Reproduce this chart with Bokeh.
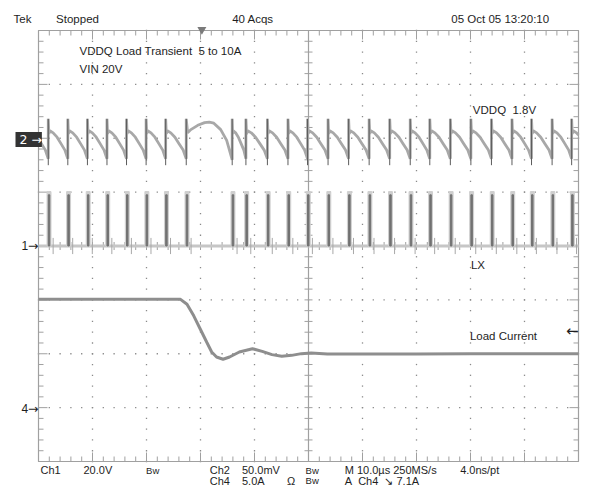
import numpy as np
from bokeh.plotting import figure
from bokeh.models import Range1d, Label
from bokeh.embed import file_html
from bokeh.resources import INLINE

# ---------------- data ----------------
# switching instants of LX (µs from left edge of screen, 10 µs/div)
switch_times_us = [1.81, 5.43, 9.06, 12.68, 16.30, 19.93, 23.55, 27.36,
                   35.87, 38.41, 42.39, 46.20, 49.82, 53.62, 57.43, 61.23,
                   65.04, 68.84, 72.46, 76.27, 80.07, 83.88, 87.68, 91.30,
                   95.11, 98.73]
lx_high_v = 19.0
lx_pulse_width_us = 0.28

# VDDQ ripple (mV around 1.8 V): one tooth read as (fraction of period, mV)
tooth_phase = [0.0, 0.03, 0.08, 0.25, 0.45, 0.65, 0.85, 1.0]
tooth_mv = [18, 4, 7, 5, 1, -5, -11, -19]
# overshoot hump after the load step (cycle starting at 27.36 µs)
hump_start_us = 27.36
hump_phase = [0.0, 0.03, 0.10, 0.25, 0.40, 0.50, 0.60, 0.75, 0.88, 1.0]
hump_mv = [18, 5, 8, 12, 14.5, 15, 14, 8, -2, -20]
spike_low_mv = -25
spike_high_mv = 18

# load current (A) vs time (µs)
load_t_us = [0, 26.3, 27.5, 28.75, 29.95, 31.16, 32.07, 32.97, 34.18, 35.38,
             37.19, 39.62, 41.43, 43.24, 45.05, 46.87, 48.68, 50.49, 53.5,
             60, 70, 80, 90, 100]
load_a = [10.05, 10.05, 9.59, 8.52, 7.30, 6.07, 5.16, 4.70, 4.49, 4.70,
          5.16, 5.47, 5.22, 4.92, 4.76, 4.85, 5.01, 5.06, 4.97,
          4.98, 4.98, 5.0, 4.99, 4.99]
trigger_time_us = 30.25
trigger_level_a = 7.1

# scope settings
US_PER_DIV = 10
CH1_V_PER_DIV, CH1_POS = 20.0, 0      # LX
CH2_MV_PER_DIV, CH2_POS = 50.0, 2     # VDDQ (mV about 1.8 V)
CH4_A_PER_DIV, CH4_POS = 5.0, -3      # load current

# ---------------- geometry ----------------
W, H = 581, 486
GX0, GX1 = 38, 578          # graticule left / right (px)
GY0, GY1 = 30, 461          # graticule top / bottom (px)
KX = (GX1 - GX0) / 100.0    # px per µs
KY = (GY1 - GY0) / 8.0      # px per division

x_start = -GX0 / KX
x_end = 100 + (W - GX1) / KX
y_top = 4 + GY0 / KY
y_bot = -4 - (H - GY1) / KY

FONT = "Liberation Sans"
SYM = "DejaVu Sans"
TXT = "#1e1e1e"
GRID = "#a0a0a0"

p = figure(width=W, height=H, x_range=Range1d(x_start, x_end), y_range=Range1d(y_bot, y_top),
           x_axis_type=None, y_axis_type=None, output_backend="svg",
           toolbar_location=None, min_border=0)
p.outline_line_color = None
p.background_fill_color = "white"
p.border_fill_color = "white"
p.grid.visible = False
p.extra_y_ranges = {
    "ch1": Range1d((y_bot - CH1_POS) * CH1_V_PER_DIV, (y_top - CH1_POS) * CH1_V_PER_DIV),
    "ch2": Range1d((y_bot - CH2_POS) * CH2_MV_PER_DIV, (y_top - CH2_POS) * CH2_MV_PER_DIV),
    "ch4": Range1d((y_bot - CH4_POS) * CH4_A_PER_DIV, (y_top - CH4_POS) * CH4_A_PER_DIV),
}

# ---------------- graticule ----------------
xdiv = np.arange(0, 101, US_PER_DIV, dtype=float)            # 0..100 µs
ydiv = np.arange(-4, 5, 1, dtype=float)                      # -4..4 div
xminor = np.round(np.arange(0, 100.001, US_PER_DIV / 5), 6)
yminor = np.round(np.arange(-4, 4.001, 0.2), 6)

# dotted division lines
dx, dy = [], []
for xv in xdiv[1:-1]:
    if xv != 50:
        dx += [xv] * len(yminor)
        dy += list(yminor)
for yv in ydiv[1:-1]:
    if yv != 0:
        dx += list(xminor)
        dy += [yv] * len(xminor)
p.scatter(dx, dy, marker="square", size=1.3, fill_color="#8a8a8a", line_color=None)

# outer frame and centre crosshair
p.quad(left=[0], right=[100], bottom=[-4], top=[4], fill_color=None,
       line_color=GRID, line_width=1.2)
p.segment(x0=[50, 0], y0=[-4, 0], x1=[50, 100], y1=[4, 0], line_color=GRID, line_width=1.2)

# ticks
is_major_x = np.isclose(xminor % US_PER_DIV, 0)
is_major_y = np.isclose(np.abs(yminor) % 1, 0)
lx_ = np.where(is_major_x, 9, 5) / KY      # tick length in div for x ticks
ly_ = np.where(is_major_y, 9, 5) / KX      # tick length in µs for y ticks
tx0, ty0, tx1, ty1 = [], [], [], []
tx0 += list(xminor); ty0 += [4] * len(xminor); tx1 += list(xminor); ty1 += list(4 - lx_)
tx0 += list(xminor); ty0 += [-4] * len(xminor); tx1 += list(xminor); ty1 += list(-4 + lx_)
tx0 += [0] * len(yminor); ty0 += list(yminor); tx1 += list(ly_); ty1 += list(yminor)
tx0 += [100] * len(yminor); ty0 += list(yminor); tx1 += list(100 - ly_); ty1 += list(yminor)
c = 4
tx0 += list(xminor); ty0 += [-c / KY] * len(xminor); tx1 += list(xminor); ty1 += [c / KY] * len(xminor)
tx0 += [50 - c / KX] * len(yminor); ty0 += list(yminor); tx1 += [50 + c / KX] * len(yminor); ty1 += list(yminor)
p.segment(x0=tx0, y0=ty0, x1=tx1, y1=ty1, line_color=GRID, line_width=1)

# ---------------- Ch1 : LX ----------------
p.line([0, 100], [0, 0], line_color="#c6c6c6", line_width=3, y_range_name="ch1")
px_centres = [t + lx_pulse_width_us / 2 for t in switch_times_us]
p.vbar(x=px_centres, width=lx_pulse_width_us + 0.45, bottom=0, top=lx_high_v + 1.2,
       color="#cfcfcf", y_range_name="ch1")
p.vbar(x=px_centres, width=lx_pulse_width_us, bottom=0, top=lx_high_v,
       color="#727272", y_range_name="ch1")
ring = [t + 0.9 for t in switch_times_us]
p.segment(x0=ring, y0=-3, x1=ring, y1=3, line_color="#a8a8a8", line_width=1, y_range_name="ch1")

# ---------------- Ch2 : VDDQ ripple ----------------
starts = [switch_times_us[0] - (switch_times_us[1] - switch_times_us[0])] + switch_times_us
ends = switch_times_us + [switch_times_us[-1] + (switch_times_us[-1] - switch_times_us[-2])]
vt, vv = [], []
for s, e in zip(starts, ends):
    ph, mv = (hump_phase, hump_mv) if abs(s - hump_start_us) < 0.01 else (tooth_phase, tooth_mv)
    for f, m in zip(ph, mv):
        vt.append(s + f * (e - s))
        vv.append(m)


def clip_to_screen(t, v, lo=0.0, hi=100.0):
    ot, ov = [], []
    for i in range(len(t)):
        if lo <= t[i] <= hi:
            if not ot and i > 0 and t[i - 1] < lo:
                a = (lo - t[i - 1]) / (t[i] - t[i - 1])
                ot.append(lo); ov.append(v[i - 1] + a * (v[i] - v[i - 1]))
            ot.append(t[i]); ov.append(v[i])
        elif t[i] > hi and ot:
            a = (hi - t[i - 1]) / (t[i] - t[i - 1])
            ot.append(hi); ov.append(v[i - 1] + a * (v[i] - v[i - 1]))
            break
    return ot, ov


vt, vv = clip_to_screen(vt, vv)
p.line(vt, vv, line_color="#a8a8a8", line_width=2.8, y_range_name="ch2")
p.segment(x0=switch_times_us, y0=spike_low_mv, x1=switch_times_us, y1=spike_high_mv,
          line_color="#5c5c5c", line_width=1, y_range_name="ch2")

# ---------------- Ch4 : load current ----------------
p.line(load_t_us, load_a, line_color="#8e8e8e", line_width=3, y_range_name="ch4")

# trigger position marker
p.scatter([trigger_time_us], [4 + 1 / KY], marker="inverted_triangle", size=9,
          color="#7a7a7a", line_color=None)


# ---------------- texts (reference pixel positions -> plot units) ----------------
def fx(xr):
    return xr if xr <= GX0 else GX0 + (xr - GX0) * (GX1 - GX0) / 552.0


def fy(yr):
    return GY0 + (yr - GY0) * (GY1 - GY0) / 437.0


def to_x(xf):
    return (xf - GX0) / KX


def to_y(yf):
    return 4 - (yf - GY0) / KY


def txt(s, xr, yr, size="11.5px", color=TXT, raw_y=False, font=FONT, align="left", **kw):
    yf = yr if raw_y else fy(yr)
    p.add_layout(Label(x=to_x(fx(xr)), y=to_y(yf), text=s, text_font=font,
                       text_font_size=size, text_color=color, text_baseline="middle",
                       text_align=align, **kw))


NB = "\u00a0"
txt("Tek", 13, 18, raw_y=True)
txt("Stopped", 56, 18, raw_y=True)
txt("40 Acqs", 236, 18, raw_y=True)
txt("05 Oct 05 13:20:10", 460, 18, raw_y=True)

txt("VDDQ Load Transient" + NB + " 5 to 10A", 80, 51)
txt("VIN 20V", 80, 69)
txt("VDDQ" + NB + " 1.8V", 482, 111)
txt("LX", 480, 268)
txt("Load Current", 479, 340)
p.add_layout(Label(x=100, y=trigger_level_a, y_range_name="ch4", text="\u2190",
                   text_font=SYM, text_font_size="15px", text_color=TXT,
                   text_baseline="middle", text_align="right"))

# channel reference markers
txt(NB + "2" + NB + "\u2192", 15, 140.5, size="12.5px", color="white", font=SYM,
    background_fill_color="#333333")
txt("1", 21, 248, size="12px")
txt("\u2192", 38, 248, size="12.5px", font=SYM, align="right")
txt("4", 21, 413, size="12px")
txt("\u2192", 38, 413, size="12.5px", font=SYM, align="right")

r1, r2 = 469.5, 480
SZ = "11px"
BW = "9.5px"
txt("Ch1", 40, r1, size=SZ, raw_y=True)
txt("20.0V", 84, r1, size=SZ, raw_y=True)
txt("Bw", 148, r1, size=BW, raw_y=True)
txt("Ch2", 213, r1, size=SZ, raw_y=True)
txt("50.0mV", 246, r1, size=SZ, raw_y=True)
txt("Bw", 311, r1, size=BW, raw_y=True)
txt("M 10.0\u00b5s 250MS/s", 351, r1, size=SZ, raw_y=True)
txt("4.0ns/pt", 469, r1, size=SZ, raw_y=True)
txt("Ch4", 213, r2, size=SZ, raw_y=True)
txt("5.0A", 246, r2, size=SZ, raw_y=True)
txt("\u03a9", 292, r2, size=SZ, raw_y=True)
txt("Bw", 311, r2, size=BW, raw_y=True)
txt("A" + NB + " Ch4" + NB + " \u2198 7.1A", 351, r2, size=SZ, raw_y=True)

open("out.html", "w").write(file_html(p, INLINE))
